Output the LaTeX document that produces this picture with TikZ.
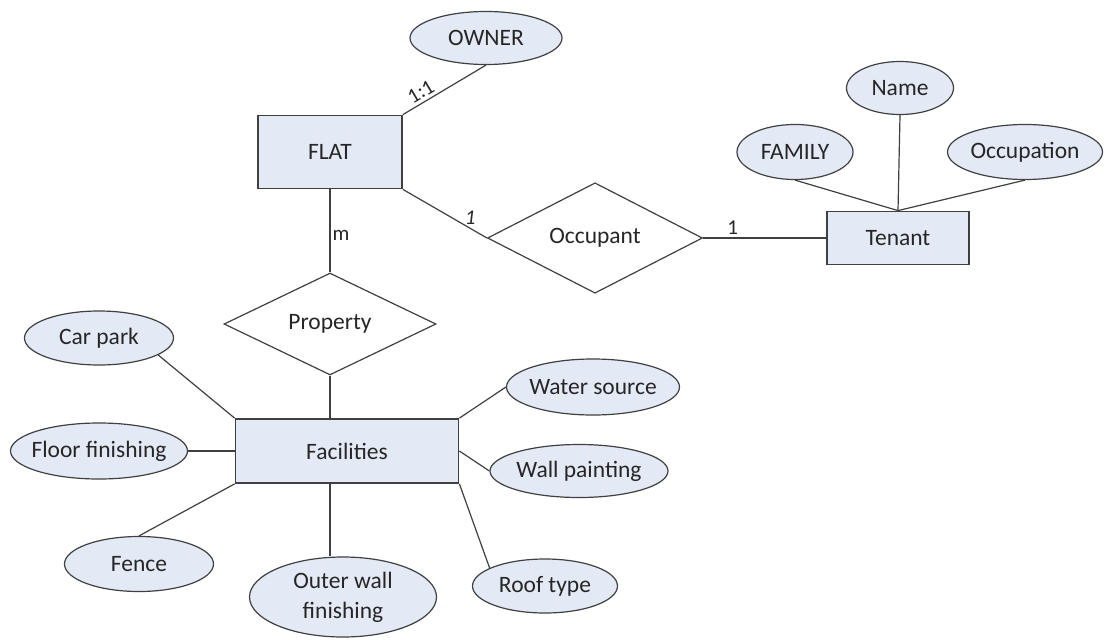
\documentclass[tikz,border=0pt]{standalone}
\usepackage{fontspec}
\setmainfont{Carlito}
\usetikzlibrary{shapes.geometric}
\definecolor{attrfill}{RGB}{228,234,245}
\definecolor{edgecol}{RGB}{64,64,64}
\definecolor{txtcol}{RGB}{38,38,38}
\begin{document}
\begin{tikzpicture}[x=1pt,y=-1pt,
 every node/.style={font=\fontsize{23.5}{30}\selectfont, text=txtcol},
 entity/.style={rectangle, draw=edgecol, line width=1.8pt, fill=attrfill, inner sep=0pt},
 attr/.style={ellipse, draw=edgecol, line width=1.2pt, fill=attrfill, inner sep=0pt},
 rel/.style={diamond, draw=edgecol, line width=1.2pt, fill=white, inner sep=0pt},
 conn/.style={draw=edgecol, line width=1.2pt},
 card/.style={inner sep=3pt, font=\fontsize{21}{24}\selectfont}]
\useasboundingbox[fill=white] (0,0) rectangle (1105,640);

\node[entity, minimum width=144pt, minimum height=73pt] (flat) at (330,152) {FLAT};
\node[attr, minimum width=152pt, minimum height=53pt, label=center:OWNER] (owner) at (486,38) {};
\node[rel, minimum width=215pt, minimum height=90pt] (occ) at (595,238) {Occupant};
\node[entity, minimum width=142pt, minimum height=53pt] (tenant) at (898,238) {Tenant};
\node[attr, minimum width=116pt, minimum height=55pt, label=center:FAMILY] (family) at (795,152) {};
\node[attr, minimum width=107pt, minimum height=53pt, label=center:Name] (name) at (900,88) {};
\node[attr, minimum width=155pt, minimum height=55pt, label=center:Occupation] (occup) at (1025,152) {};
\node[rel, minimum width=212pt, minimum height=84pt] (prop) at (330,324) {Property};
\node[entity, minimum width=223pt, minimum height=64pt] (fac) at (347,451) {Facilities};
\node[attr, minimum width=149pt, minimum height=54pt, label=center:Car park] (carpark) at (99,338) {};
\node[attr, minimum width=177pt, minimum height=56pt, label=center:Floor finishing] (floor) at (99,451) {};
\node[attr, minimum width=149pt, minimum height=55pt, label=center:Fence] (fence) at (139,564) {};
\node[attr, minimum width=187pt, minimum height=80pt, label={[align=center]center:Outer wall\\finishing}] (outer) at (343,597) {};
\node[attr, minimum width=173pt, minimum height=56pt, label=center:Water source] (water) at (593,387) {};
\node[attr, minimum width=178pt, minimum height=53pt, label=center:Wall painting] (wall) at (579,471) {};
\node[attr, minimum width=145pt, minimum height=54pt, label=center:Roof type] (roof) at (545,586) {};

\draw[conn] (flat.north east) -- node[card, pos=0.28, above, sloped] {1:1} (owner.south);
\draw[conn] (flat.south east) -- node[card, pos=0.8, above] {\textit{1}} (occ.west);
\draw[conn] (occ.east) -- node[card, pos=0.24, above] {1} (tenant.west);
\draw[conn] (family.south) -- (tenant.north);
\draw[conn] (name.south) -- (tenant.north);
\draw[conn] (occup.south) -- (tenant.north);
\draw[conn] (flat.south) -- node[card, pos=0.55, right, inner sep=2pt] {m} (prop.north);
\draw[conn] (prop.south) -- (prop.south |- fac.north);
\draw[conn] (carpark.-16) -- (fac.north west);
\draw[conn] (floor.east) -- (fac.west);
\draw[conn] (fence.north) -- (fac.south west);
\draw[conn] (prop.south |- fac.south) -- (prop.south |- outer.north);
\draw[conn] (fac.north east) -- (water.west);
\draw[conn] (fac.east) -- (wall.west);
\draw[conn] (fac.south east) -- (roof.162);
\end{tikzpicture}
\end{document}
